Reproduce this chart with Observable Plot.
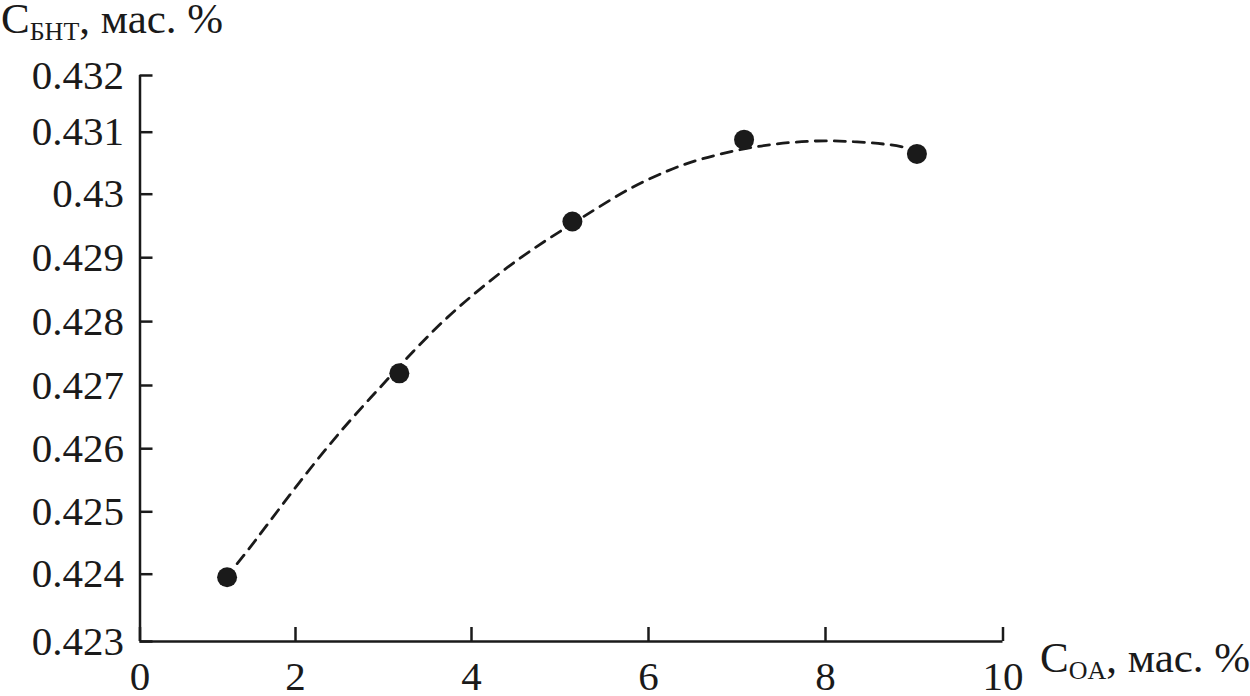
<!DOCTYPE html>
<html><head><meta charset="utf-8">
<script src="https://cdn.jsdelivr.net/npm/d3@7"></script>
<script src="https://cdn.jsdelivr.net/npm/@observablehq/plot@0.6"></script>
<style>
html,body{margin:0;padding:0;background:#fff}
#chart{position:relative;width:1250px;height:696px}
</style>
</head><body><div id="chart"></div>
<script>
// Tick values
const xTicks = [0, 2, 4, 6, 8, 10];
const yTicks = [0.423, 0.424, 0.425, 0.426, 0.427, 0.428, 0.429, 0.430, 0.431, 0.432];
// Measured points
const pointX = [1.12, 3.18, 5.14, 7.08, 9.03];
const pointY = [0.423955, 0.42719, 0.42957, 0.43088, 0.43065];
// Dashed trend curve
const curveX = [1.25, 1.42, 2.057, 2.545, 2.93, 3.344, 3.72, 4.10, 4.478, 4.855, 5.42, 5.797, 6.211, 6.512, 7.002, 7.454, 7.906, 8.319, 8.695, 8.92];
const curveY = [0.42417, 0.42443, 0.42550, 0.42634, 0.42692, 0.42755, 0.42807, 0.42852, 0.42893, 0.42929, 0.42978, 0.43011, 0.43038, 0.43054, 0.43072, 0.43082, 0.43087, 0.43085, 0.43081, 0.43075];

const points = pointX.map((x, i) => ({x, y: pointY[i]}));
const curve = curveX.map((x, i) => ({x, y: curveY[i]}));

const ink = "#1a1a1a";
const chart = Plot.plot({
  width: 1250, height: 696,
  marginLeft: 139.5, marginRight: 247.5, marginTop: 75, marginBottom: 55,
  style: {fontFamily: "Liberation Serif", fontSize: "41px", color: ink, background: "#fff", overflow: "visible"},
  x: {type: "linear", domain: xTicks, range: [139.5, 295, 471, 648, 825, 1002.5]},
  y: {type: "linear", domain: yTicks, range: [641, 573.7, 511.3, 448.2, 385, 321.1, 257.2, 193.7, 131.7, 75]},
  marks: [
    Plot.line(curve, {x: "x", y: "y", curve: "basis", stroke: ink, strokeWidth: 2.8, strokeDasharray: "11,8"}),
    Plot.dot(points, {x: "x", y: "y", r: 10, fill: ink, stroke: "none"}),
    Plot.axisX(xTicks, {tickSize: -14, tickPadding: 33, strokeWidth: 2.5, tickFormat: d => String(d), label: null, fill: ink}),
    Plot.axisY(yTicks, {tickSize: -13, tickPadding: 29, strokeWidth: 2.5, tickFormat: d => String(+d.toFixed(3)), label: null, fill: ink}),
    Plot.ruleX([0], {stroke: ink, strokeWidth: 2.5}),
    Plot.ruleY([0.423], {stroke: ink, strokeWidth: 2.5})
  ]
});
document.getElementById("chart").appendChild(chart);

const svg = d3.select(chart);
function label(x, y, main, sub, rest) {
  const t = svg.append("text").attr("x", x).attr("y", y)
    .attr("text-anchor", "start")
    .attr("font-family", "Liberation Serif").attr("font-size", 43).attr("fill", ink);
  t.append("tspan").text(main);
  t.append("tspan").attr("font-size", 26).attr("dy", 7).text(sub);
  t.append("tspan").attr("dy", -7).text(rest);
}
label(1, 33, "C", "БНТ", ", мас. %");
label(1040, 672, "C", "OA", ", мас. %");
</script>
</body></html>
